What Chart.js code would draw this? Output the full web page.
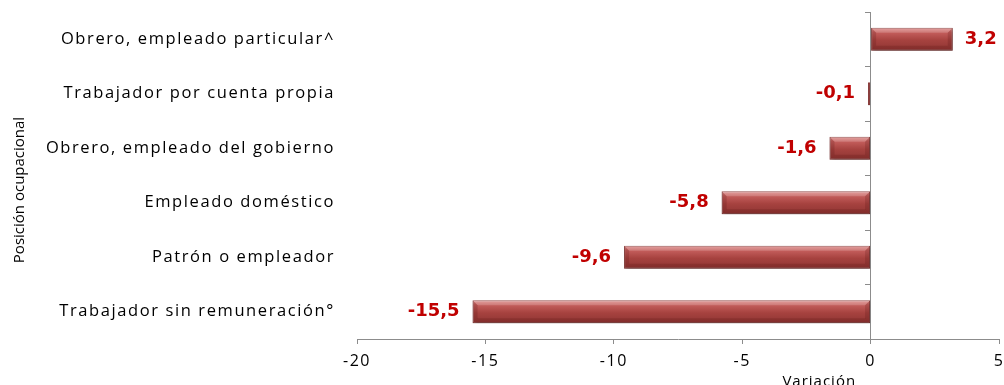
<!DOCTYPE html>
<html>
<head>
<meta charset="utf-8">
<script src="https://cdn.jsdelivr.net/npm/chart.js@4.4.1/dist/chart.umd.min.js"></script>
<style>
  html, body { margin: 0; padding: 0; background: #fff; }
  #wrap { width: 1004px; height: 385px; position: relative; }
</style>
</head>
<body>
<div id="wrap"><canvas id="chart"></canvas></div>
<script>
// ----- Data -----
const categories = [
    'Obrero, empleado particular^',
    'Trabajador por cuenta propia',
    'Obrero, empleado del gobierno',
    'Empleado doméstico',
    'Patrón o empleador',
    'Trabajador sin remuneración°'
];
const variacion = [3.2, -0.1, -1.6, -5.8, -9.6, -15.5];
const xTicks = [-20, -15, -10, -5, 0, 5];
const yTitle = 'Posición ocupacional';
const xTitle = 'Variación';

const FONT = '"Open Sans", "DejaVu Sans", sans-serif';
const LABEL_FONT = 'bold 18px "DejaVu Sans", sans-serif';
const AXIS_GREY = '#8c8c8c';
const BAR_FRACTION = 0.42;

// vertical gradient for each bar, built from the y scale
function barFill(context) {
    const chart = context.chart;
    const y = chart.scales.y;
    if (!chart.chartArea || !y || context.dataIndex === undefined) return '#a84240';
    const center = y.getPixelForValue(context.dataIndex);
    const h = Math.abs(y.getPixelForValue(1) - y.getPixelForValue(0)) * BAR_FRACTION;
    const g = chart.ctx.createLinearGradient(0, center - h / 2, 0, center + h / 2);
    g.addColorStop(0, '#df8e8c');
    g.addColorStop(0.2, '#c45e5c');
    g.addColorStop(0.55, '#a6423f');
    g.addColorStop(1, '#8e3533');
    return g;
}

// shadow, bevel, value labels and titles
const decorPlugin = {
    id: 'decor',
    beforeUpdate(chart) { chart.ctx.letterSpacing = '1.6px'; },
    beforeDraw(chart) { chart.ctx.letterSpacing = '1.6px'; },
    beforeDatasetsDraw(chart) {
        const ctx = chart.ctx;
        ctx.save();
        ctx.shadowColor = 'rgba(0,0,0,0.35)';
        ctx.shadowBlur = 4;
        ctx.shadowOffsetX = 1;
        ctx.shadowOffsetY = 2;
    },
    afterDatasetsDraw(chart) {
        const ctx = chart.ctx;
        ctx.restore();
        const meta = chart.getDatasetMeta(0);
        meta.data.forEach((bar, i) => {
            const left = Math.min(bar.x, bar.base);
            const right = Math.max(bar.x, bar.base);
            const top = bar.y - bar.height / 2;
            const bottom = bar.y + bar.height / 2;
            const b = Math.min(5, (right - left) / 2);
            ctx.save();
            // top highlight
            ctx.fillStyle = 'rgba(255,255,255,0.18)';
            ctx.beginPath();
            ctx.moveTo(left, top); ctx.lineTo(right, top);
            ctx.lineTo(right - b, top + b); ctx.lineTo(left + b, top + b);
            ctx.closePath(); ctx.fill();
            // bottom shade
            ctx.fillStyle = 'rgba(60,0,0,0.15)';
            ctx.beginPath();
            ctx.moveTo(left, bottom); ctx.lineTo(right, bottom);
            ctx.lineTo(right - b, bottom - b); ctx.lineTo(left + b, bottom - b);
            ctx.closePath(); ctx.fill();
            // end bevels
            ctx.fillStyle = 'rgba(70,10,10,0.18)';
            ctx.beginPath();
            ctx.moveTo(left, top); ctx.lineTo(left + b, top + b);
            ctx.lineTo(left + b, bottom - b); ctx.lineTo(left, bottom);
            ctx.closePath(); ctx.fill();
            ctx.beginPath();
            ctx.moveTo(right, top); ctx.lineTo(right - b, top + b);
            ctx.lineTo(right - b, bottom - b); ctx.lineTo(right, bottom);
            ctx.closePath(); ctx.fill();
            ctx.restore();

            // value label
            const v = variacion[i];
            ctx.save();
            ctx.letterSpacing = '0px';
            ctx.font = LABEL_FONT;
            ctx.fillStyle = '#c00000';
            ctx.textBaseline = 'middle';
            const text = v.toFixed(1).replace('.', ',');
            if (v >= 0) {
                ctx.textAlign = 'left';
                ctx.fillText(text, bar.x + 12, bar.y);
            } else {
                ctx.textAlign = 'right';
                ctx.fillText(text, bar.x - 13, bar.y);
            }
            ctx.restore();
        });
    },
    afterDraw(chart) {
        const ctx = chart.ctx;
        ctx.save();
        ctx.letterSpacing = '0px';
        ctx.fillStyle = '#000';
        ctx.font = '15px ' + FONT;
        ctx.textAlign = 'center';
        ctx.textBaseline = 'middle';
        // y title, rotated
        ctx.save();
        ctx.translate(20, 190);
        ctx.rotate(-Math.PI / 2);
        ctx.fillText(yTitle, 0, 0);
        ctx.restore();
        // x title, below the axis near zero
        ctx.letterSpacing = '1px';
        ctx.fillText(xTitle, chart.scales.x.getPixelForValue(-2), 382);
        ctx.restore();
    }
};

const ctx = document.getElementById('chart').getContext('2d');
const chart = new Chart(ctx, {
    type: 'bar',
    data: {
        labels: categories,
        datasets: [{
            data: variacion,
            backgroundColor: barFill,
            borderColor: '#93403e',
            borderWidth: 1,
            borderSkipped: false,
            categoryPercentage: 1,
            barPercentage: BAR_FRACTION,
        }]
    },
    options: {
        indexAxis: 'y',
        responsive: true,
        maintainAspectRatio: false,
        animation: false,
        layout: { padding: { top: 12, right: 5, left: 0, bottom: 0 } },
        plugins: {
            legend: { display: false },
            tooltip: { enabled: false },
        },
        scales: {
            x: {
                type: 'linear',
                min: xTicks[0],
                max: xTicks[xTicks.length - 1],
                afterBuildTicks: (scale) => { scale.ticks = xTicks.map(v => ({ value: v })); },
                grid: { drawOnChartArea: false, tickLength: 5, color: AXIS_GREY },
                border: { color: AXIS_GREY, width: 1 },
                ticks: { color: '#000', font: { family: FONT, size: 16 }, padding: 8 },
                afterFit: (scale) => {
                    scale.height = 46;
                    scale.paddingLeft = 0;
                    scale.paddingRight = 0;
                },
            },
            y: {
                type: 'category',
                grid: { display: true, drawOnChartArea: false, drawTicks: true, tickLength: 22, color: 'rgba(0,0,0,0)' },
                border: { display: false },
                ticks: { color: '#000', font: { family: FONT, size: 16.5 }, padding: 0 },
                afterFit: (scale) => {
                    scale.width = 357;
                    scale.paddingTop = 0;
                    scale.paddingBottom = 0;
                },
            },
            yZero: {
                type: 'category',
                axis: 'y',
                labels: categories,
                position: { x: 0 },
                offset: true,
                grid: { offset: true, drawOnChartArea: false, tickLength: 5, color: AXIS_GREY },
                border: { color: AXIS_GREY, width: 1 },
                ticks: { display: false },
            }
        }
    },
    plugins: [decorPlugin]
});
</script>
</body>
</html>
